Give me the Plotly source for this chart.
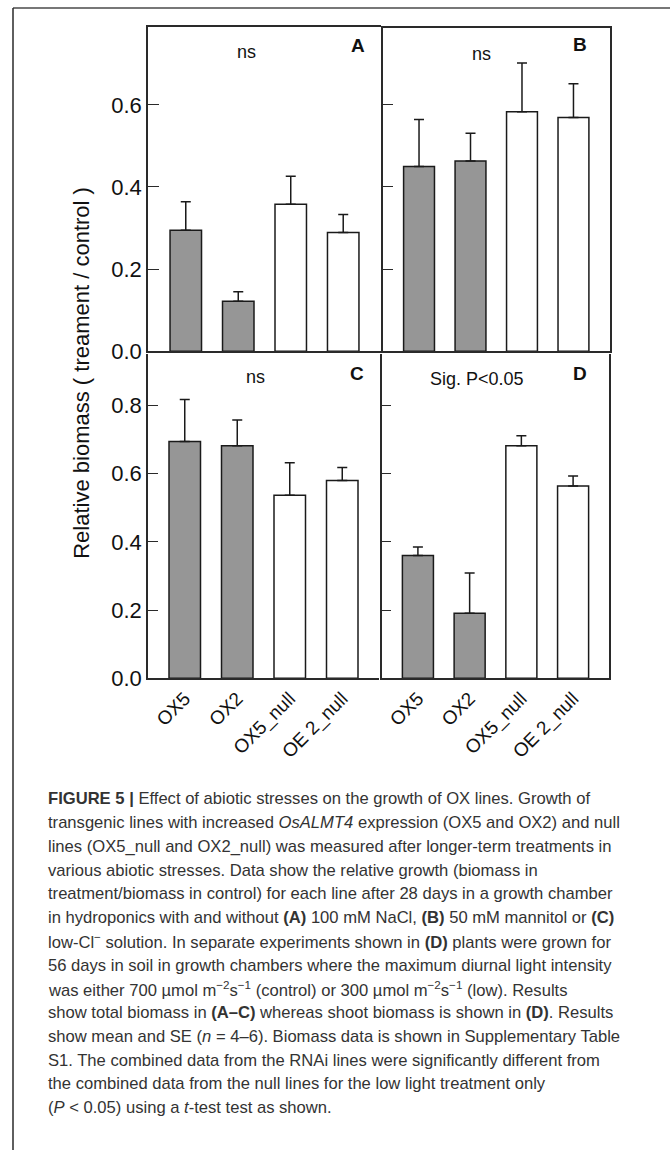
import plotly.graph_objects as go

W, H = 670, 1163

categories = ["OX5", "OX2", "OX5_null", "OE 2_null"]
bar_colors = ["#969696", "#969696", "#ffffff", "#ffffff"]

mean_A = [0.295, 0.122, 0.358, 0.289]
se_A = [0.069, 0.023, 0.068, 0.044]
mean_B = [0.450, 0.463, 0.583, 0.569]
se_B = [0.114, 0.068, 0.119, 0.082]
mean_C = [0.694, 0.682, 0.537, 0.580]
se_C = [0.123, 0.075, 0.095, 0.038]
mean_D = [0.360, 0.191, 0.682, 0.564]
se_D = [0.025, 0.118, 0.029, 0.029]

ticks_top = [0.0, 0.2, 0.4, 0.6]
ticks_bottom = [0.0, 0.2, 0.4, 0.6, 0.8]

FONT = "Liberation Sans, Arial, Helvetica, sans-serif"
INK = "#1a1a1a"


def fx(px):
    return px / W


def fy(py):
    return 1 - py / H


fig = go.Figure()

panels = [
    ("x", "y", mean_A, se_A),
    ("x2", "y2", mean_B, se_B),
    ("x3", "y3", mean_C, se_C),
    ("x4", "y4", mean_D, se_D),
]
for xa, ya, m, s in panels:
    fig.add_trace(go.Bar(
        x=categories, y=m, xaxis=xa, yaxis=ya, width=0.6,
        marker=dict(color=bar_colors, line=dict(color=INK, width=1.5)),
        error_y=dict(type="data", array=s, arrayminus=[0] * len(s), symmetric=False,
                     color=INK, thickness=1.5, width=5),
        showlegend=False, hoverinfo="skip",
    ))

common_x = dict(type="category", showline=True, linecolor="#2a2a2a", linewidth=1.5,
                showgrid=False, zeroline=False, ticks="", fixedrange=True)
common_y = dict(showline=True, linecolor="#2a2a2a", linewidth=1.5, showgrid=False,
                zeroline=False, ticks="inside", ticklen=10, tickwidth=1.3,
                tickcolor="#2a2a2a", tickformat=".1f", fixedrange=True,
                tickfont=dict(family=FONT, size=22, color="#111"))

top_bot, top_top_A, top_top_B = 355.3, 27, 28
bot_bot, bot_top = 686, 358
px_per_unit_top = 83.1 / 0.2
px_per_unit_bot = 69.0 / 0.2

fig.update_layout(
    width=W, height=H, margin=dict(l=0, r=0, t=0, b=0),
    paper_bgcolor="white", plot_bgcolor="rgba(0,0,0,0)",
    font=dict(family=FONT, color="#111"),
    bargap=0.4,
    xaxis=dict(common_x, domain=[fx(148), fx(381)], range=[-0.72, 3.72], anchor="y",
               mirror=True, showticklabels=False),
    yaxis=dict(common_y, domain=[fy(top_bot), fy(top_top_A)],
               range=[0, (top_bot - top_top_A) / px_per_unit_top], anchor="x",
               tickvals=ticks_top, ticklen=11),
    xaxis2=dict(common_x, domain=[fx(383), fx(609.5)], range=[-0.7, 3.7], anchor="y2",
                mirror=True, showticklabels=False),
    yaxis2=dict(common_y, domain=[fy(top_bot), fy(top_top_B)],
                range=[0, (top_bot - top_top_B) / px_per_unit_top], anchor="x2",
                tickvals=ticks_top, showticklabels=False, mirror=True),
    xaxis3=dict(common_x, domain=[fx(148), fx(379)], range=[-0.7, 3.7], anchor="y3",
                tickangle=-45, tickfont=dict(family=FONT, size=19, color="#111")),
    yaxis3=dict(common_y, domain=[fy(bot_bot), fy(bot_top)],
                range=[0, (bot_bot - bot_top) / px_per_unit_bot], anchor="x3",
                tickvals=ticks_bottom),
    xaxis4=dict(common_x, domain=[fx(381.7), fx(609.3)], range=[-0.7, 3.7], anchor="y4",
                tickangle=-45, tickfont=dict(family=FONT, size=19, color="#111")),
    yaxis4=dict(common_y, domain=[fy(bot_bot), fy(bot_top)],
                range=[0, (bot_bot - bot_top) / px_per_unit_bot], anchor="x4",
                tickvals=ticks_bottom, showticklabels=False, mirror=True),
)

ann = []


def add_text(text, x, y, size, bold=False, xanchor="center", angle=0, color="#111"):
    ann.append(dict(text=("<b>%s</b>" % text) if bold else text,
                    x=fx(x), y=fy(y), xref="paper", yref="paper",
                    xanchor=xanchor, yanchor="middle", showarrow=False,
                    textangle=angle, font=dict(family=FONT, size=size, color=color)))


add_text("ns", 247, 53, 18)
add_text("A", 358, 46, 19, bold=True)
add_text("ns", 481, 55, 18)
add_text("B", 580, 45, 19, bold=True)
add_text("ns", 255, 381, 18)
add_text("C", 357, 378, 19, bold=True)
add_text("Sig. P<0.05", 477, 383, 18)
add_text("D", 580, 378, 19, bold=True)
add_text("Relative biomass ( treament / control )", 82, 377, 22, angle=-90)

caption = [
    "<b>FIGURE 5 |</b> Effect of abiotic stresses on the growth of OX lines. Growth of",
    "transgenic lines with increased <i>OsALMT4</i> expression (OX5 and OX2) and null",
    "lines (OX5_null and OX2_null) was measured after longer-term treatments in",
    "various abiotic stresses. Data show the relative growth (biomass in",
    "treatment/biomass in control) for each line after 28 days in a growth chamber",
    "in hydroponics with and without <b>(A)</b> 100 mM NaCl, <b>(B)</b> 50 mM mannitol or <b>(C)</b>",
    "low-Cl<sup>−</sup> solution. In separate experiments shown in <b>(D)</b> plants were grown for",
    "56 days in soil in growth chambers where the maximum diurnal light intensity",
    "was either 700 µmol m<sup>−2</sup>s<sup>−1</sup> (control) or 300 µmol m<sup>−2</sup>s<sup>−1</sup> (low). Results",
    "show total biomass in <b>(A–C)</b> whereas shoot biomass is shown in <b>(D)</b>. Results",
    "show mean and SE (<i>n</i> = 4–6). Biomass data is shown in Supplementary Table",
    "S1. The combined data from the RNAi lines were significantly different from",
    "the combined data from the null lines for the low light treatment only",
    "(<i>P</i> < 0.05) using a <i>t</i>-test test as shown.",
]
for i, line in enumerate(caption):
    add_text(line, 46, 808 + 24 * i, 16.6, xanchor="left", color="#333333")

fig.update_layout(annotations=ann)

fig.update_layout(shapes=[
    dict(type="line", xref="paper", yref="paper", x0=fx(13), x1=1, y0=fy(8), y1=fy(8),
         line=dict(color="#4a4a4a", width=1.5)),
    dict(type="line", xref="paper", yref="paper", x0=fx(13), x1=fx(13), y0=fy(8), y1=0,
         line=dict(color="#2a2a2a", width=1.5)),
])

post = (
    "document.documentElement.style.margin='0px';"
    "document.documentElement.style.height='1163px';"
    "document.documentElement.style.overflow='hidden';"
    "document.body.style.margin='0px';"
    "document.body.style.height='1163px';"
    "document.body.style.overflow='hidden';"
)
fig.write_html("out.html", config={"displayModeBar": False}, post_script=post)
